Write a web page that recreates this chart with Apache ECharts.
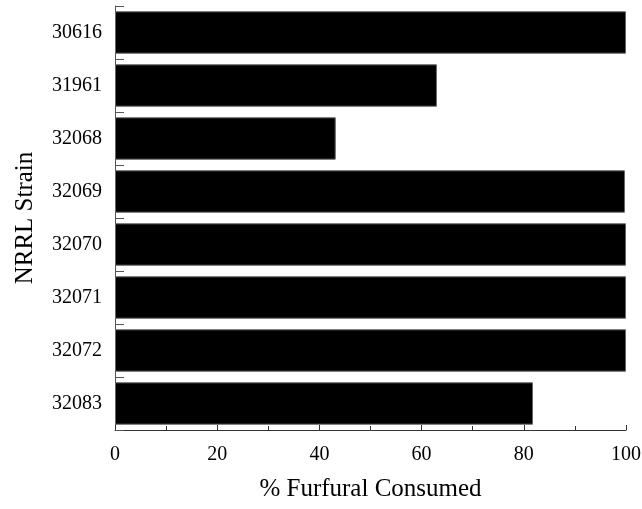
<!DOCTYPE html>
<html>
<head>
<meta charset="utf-8">
<script src="https://cdn.jsdelivr.net/npm/echarts@6/dist/echarts.min.js"></script>
<style>html,body{margin:0;padding:0;background:#fff}#c{width:642px;height:509px}</style>
</head>
<body>
<div id="c"></div>
<script>
var strains = ['30616','31961','32068','32069','32070','32071','32072','32083'];
var consumed = [100, 63, 43.2, 99.8, 100, 100, 100, 81.8];
var xTicks = [0, 20, 40, 60, 80, 100];

var chart = echarts.init(document.getElementById('c'), null, {renderer:'canvas'});
var font = 'Liberation Serif';
chart.setOption({
  animation: false,
  grid: {left:115, right:16, top:6, bottom:79, containLabel:false, outerBoundsMode:'none'},
  xAxis: {
    type:'value', min:0, max:100, interval:20,
    name:'% Furfural Consumed', nameLocation:'middle', nameGap:47,
    nameTextStyle:{fontFamily:font, fontSize:25, color:'#000'},
    axisLine:{show:true, lineStyle:{color:'#333', width:1}},
    axisTick:{show:true, inside:true, length:5, lineStyle:{color:'#333'}},
    minorTick:{show:true, splitNumber:2, length:4, lineStyle:{color:'#333'}},
    splitLine:{show:false},
    axisLabel:{fontFamily:font, fontSize:20, color:'#000', margin:15,
      formatter:function(v){return xTicks.indexOf(v)>=0 ? String(v) : '';}}
  },
  yAxis: {
    type:'category', data:strains, inverse:true,
    name:'NRRL Strain', nameLocation:'middle', nameGap:77, nameRotate:90,
    nameTextStyle:{fontFamily:font, fontSize:25, color:'#000'},
    axisLine:{show:true, lineStyle:{color:'#555', width:1}},
    axisTick:{show:true, inside:true, length:9, lineStyle:{color:'#555'}},
    axisLabel:{fontFamily:font, fontSize:20, color:'#000', margin:13}
  },
  series:[{
    type:'bar', data:consumed, barCategoryGap:'20%',
    itemStyle:{color:'#000', borderColor:'#666', borderWidth:1}
  }]
});
</script>
</body>
</html>
